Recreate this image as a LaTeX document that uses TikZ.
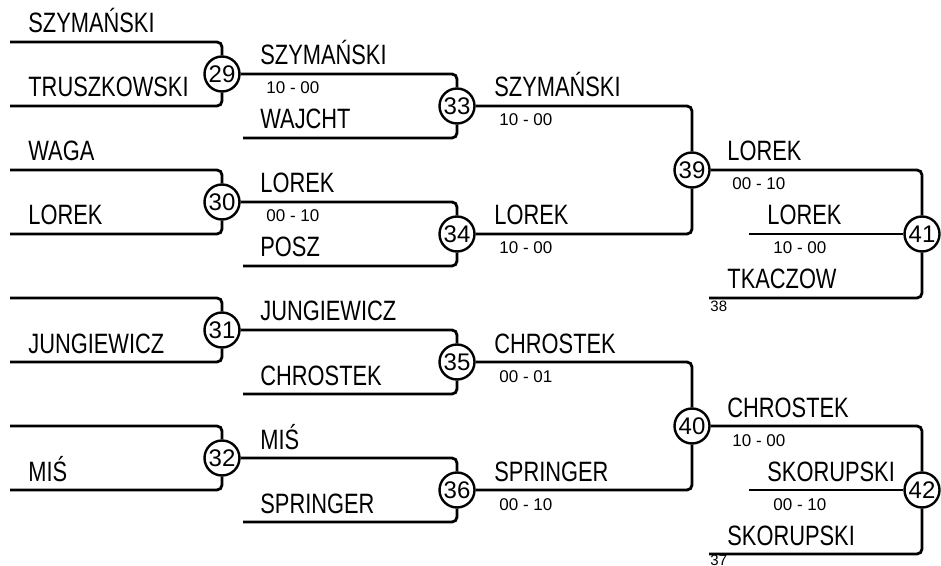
\documentclass[tikz,border=0pt]{standalone}
\usepackage{fontspec}
\setmainfont{Liberation Sans}
\newfontfamily\namefont[FakeStretch=0.78]{Liberation Sans}

\begin{document}
\begin{tikzpicture}[x=0.5pt, y=-0.5pt, line width=1.4pt, rounded corners=2.5pt,
    game/.style={circle, draw, line width=1.2pt, inner sep=0pt, minimum size=17.5pt, font=\fontsize{12}{12}\selectfont},
    player/.style={anchor=base west, inner sep=0pt, font=\namefont\fontsize{14}{16}\selectfont},
    score/.style={anchor=base west, inner sep=0pt, font=\fontsize{8.5}{10}\selectfont},
    seed/.style={anchor=base west, inner sep=0pt, font=\fontsize{7.5}{9}\selectfont}]
    \useasboundingbox (0,0) rectangle (941,566);

    % Games
    \node[game] (G29) at (222, 74) {29};
    \node[game] (G30) at (222,202) {30};
    \node[game] (G31) at (222,330) {31};
    \node[game] (G32) at (222,458) {32};
    \node[game] (G33) at (457,106) {33};
    \node[game] (G34) at (457,234) {34};
    \node[game] (G35) at (457,362) {35};
    \node[game] (G36) at (457,490) {36};
    \node[game] (G39) at (692,170) {39};
    \node[game] (G40) at (692,426) {40};
    \node[game] (G41) at (922,234) {41};
    \node[game] (G42) at (922,490) {42};

    % Line starts
    \coordinate (S29a) at (10, 42);  \coordinate (S29b) at (10,106);
    \coordinate (S30a) at (10,170);  \coordinate (S30b) at (10,234);
    \coordinate (S31a) at (10,298);  \coordinate (S31b) at (10,362);
    \coordinate (S32a) at (10,426);  \coordinate (S32b) at (10,490);
    \coordinate (S33b) at (243,138);
    \coordinate (S34b) at (243,266);
    \coordinate (S35b) at (243,394);
    \coordinate (S36b) at (243,522);
    \coordinate (S41b) at (749,234); \coordinate (S41c) at (709,298);
    \coordinate (S42b) at (749,490); \coordinate (S42c) at (709,554);

    % First round
    \draw (S29a) -| (G29);  \draw (S29b) -| (G29);
    \draw (S30a) -| (G30);  \draw (S30b) -| (G30);
    \draw (S31a) -| (G31);  \draw (S31b) -| (G31);
    \draw (S32a) -| (G32);  \draw (S32b) -| (G32);

    % Second round
    \draw (G29) -| (G33);  \draw (S33b) -| (G33);
    \draw (G30) -| (G34);  \draw (S34b) -| (G34);
    \draw (G31) -| (G35);  \draw (S35b) -| (G35);
    \draw (G32) -| (G36);  \draw (S36b) -| (G36);

    % Semi finals
    \draw (G33) -| (G39);  \draw (G34) -| (G39);
    \draw (G35) -| (G40);  \draw (G36) -| (G40);

    % Finals
    \draw (G39) -| (G41);  \draw (S41b) -- (G41);  \draw (S41c) -| (G41);
    \draw (G40) -| (G42);  \draw (S42b) -- (G42);  \draw (S42c) -| (G42);

    % Names, first round
    \node[player] (P29a) at (27, 33) {SZYMAŃSKI};
    \node[player] (P29b) at (27, 97) {TRUSZKOWSKI};
    \node[player] (P30a) at (27,161) {WAGA};
    \node[player] (P30b) at (27,225) {LOREK};
    \node[player] (P31b) at (27,353) {JUNGIEWICZ};
    \node[player] (P32b) at (27,481) {MIŚ};

    % Names, second round
    \node[player] (P33a) at (259, 65) {SZYMAŃSKI};
    \node[score]  (R33a) at (265, 94) {10 - 00};
    \node[player] (P33b) at (259,129) {WAJCHT};
    \node[player] (P34a) at (259,193) {LOREK};
    \node[score]  (R34a) at (265,222) {00 - 10};
    \node[player] (P34b) at (259,257) {POSZ};
    \node[player] (P35a) at (259,321) {JUNGIEWICZ};
    \node[player] (P35b) at (259,385) {CHROSTEK};
    \node[player] (P36a) at (259,449) {MIŚ};
    \node[player] (P36b) at (259,513) {SPRINGER};

    % Names, semi finals
    \node[player] (P39a) at (493, 97) {SZYMAŃSKI};
    \node[score]  (R39a) at (498,126) {10 - 00};
    \node[player] (P39b) at (493,225) {LOREK};
    \node[score]  (R39b) at (498,254) {10 - 00};
    \node[player] (P40a) at (493,353) {CHROSTEK};
    \node[score]  (R40a) at (498,382) {00 - 01};
    \node[player] (P40b) at (493,481) {SPRINGER};
    \node[score]  (R40b) at (498,510) {00 - 10};

    % Names, finals
    \node[player] (P41a) at (726,161) {LOREK};
    \node[score]  (R41a) at (731,190) {00 - 10};
    \node[player] (P41b) at (766,225) {LOREK};
    \node[score]  (R41b) at (772,254) {10 - 00};
    \node[player] (P41c) at (726,289) {TKACZOW};
    \node[seed]   (N41c) at (709,312) {38};
    \node[player] (P42a) at (726,417) {CHROSTEK};
    \node[score]  (R42a) at (731,446) {10 - 00};
    \node[player] (P42b) at (766,481) {SKORUPSKI};
    \node[score]  (R42b) at (772,510) {00 - 10};
    \node[player] (P42c) at (726,545) {SKORUPSKI};
    \node[seed]   (N42c) at (709,565) {37};
\end{tikzpicture}
\end{document}
